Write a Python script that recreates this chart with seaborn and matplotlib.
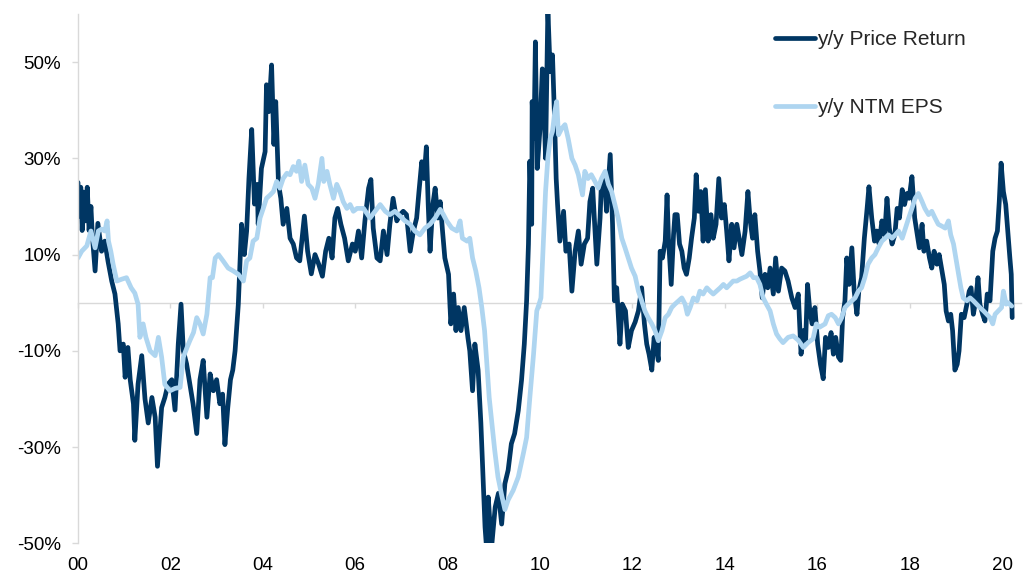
import matplotlib
matplotlib.use("Agg")
import matplotlib.pyplot as plt
import pandas as pd
import seaborn as sns

# ---------------- data ----------------
price_years = [
    2000.00, 2000.03, 2000.06, 2000.09, 2000.12, 2000.16, 2000.20, 2000.24, 2000.28, 2000.31,
    2000.37, 2000.43, 2000.51, 2000.58, 2000.65, 2000.73, 2000.80, 2000.84, 2000.87, 2000.91,
    2000.98, 2001.02, 2001.08, 2001.13, 2001.20, 2001.23, 2001.30, 2001.38, 2001.45, 2001.52,
    2001.60, 2001.67, 2001.72, 2001.81, 2001.88, 2001.95, 2002.03, 2002.10, 2002.17, 2002.23,
    2002.28, 2002.35, 2002.42, 2002.49, 2002.57, 2002.64, 2002.71, 2002.79, 2002.86, 2002.93,
    2003.00, 2003.07, 2003.13, 2003.18, 2003.24, 2003.30, 2003.35, 2003.40, 2003.47, 2003.54,
    2003.60, 2003.65, 2003.70, 2003.76, 2003.82, 2003.88, 2003.90, 2003.97, 2004.05, 2004.08,
    2004.13, 2004.19, 2004.24, 2004.28, 2004.34, 2004.39, 2004.44, 2004.52, 2004.59, 2004.66,
    2004.73, 2004.80, 2004.90, 2004.97, 2005.05, 2005.13, 2005.21, 2005.29, 2005.36, 2005.43,
    2005.50, 2005.56, 2005.62, 2005.69, 2005.77, 2005.85, 2005.94, 2006.00, 2006.07, 2006.14,
    2006.21, 2006.29, 2006.34, 2006.39, 2006.47, 2006.54, 2006.61, 2006.69, 2006.75, 2006.82,
    2006.90, 2006.97, 2007.04, 2007.11, 2007.19, 2007.26, 2007.33, 2007.38, 2007.44, 2007.49,
    2007.54, 2007.58, 2007.62, 2007.68, 2007.73, 2007.79, 2007.84, 2007.89, 2007.94, 2008.02,
    2008.07, 2008.13, 2008.18, 2008.23, 2008.29, 2008.36, 2008.44, 2008.48, 2008.54, 2008.59,
    2008.66, 2008.72, 2008.77, 2008.81, 2008.85, 2008.88, 2008.95, 2009.03, 2009.10, 2009.17,
    2009.24, 2009.31, 2009.38, 2009.45, 2009.53, 2009.60, 2009.66, 2009.71, 2009.75, 2009.78,
    2009.82, 2009.83, 2009.87, 2009.90, 2009.94, 2010.00, 2010.05, 2010.09, 2010.12, 2010.17,
    2010.22, 2010.27, 2010.31, 2010.35, 2010.38, 2010.43, 2010.51, 2010.56, 2010.63, 2010.69,
    2010.76, 2010.83, 2010.89, 2010.96, 2011.03, 2011.08, 2011.14, 2011.19, 2011.23, 2011.30,
    2011.33, 2011.39, 2011.44, 2011.52, 2011.57, 2011.61, 2011.66, 2011.73, 2011.78, 2011.85,
    2011.91, 2011.98, 2012.06, 2012.13, 2012.20, 2012.26, 2012.31, 2012.36, 2012.42, 2012.47,
    2012.53, 2012.56, 2012.60, 2012.65, 2012.71, 2012.75, 2012.78, 2012.84, 2012.89, 2012.92,
    2012.97, 2013.02, 2013.07, 2013.12, 2013.17, 2013.23, 2013.28, 2013.34, 2013.38, 2013.43,
    2013.48, 2013.53, 2013.58, 2013.64, 2013.70, 2013.75, 2013.81, 2013.87, 2013.93, 2013.99,
    2014.04, 2014.09, 2014.15, 2014.20, 2014.26, 2014.31, 2014.37, 2014.44, 2014.50, 2014.55,
    2014.60, 2014.65, 2014.71, 2014.76, 2014.81, 2014.87, 2014.93, 2014.98, 2015.05, 2015.10,
    2015.16, 2015.23, 2015.30, 2015.37, 2015.45, 2015.52, 2015.59, 2015.65, 2015.70, 2015.75,
    2015.79, 2015.84, 2015.89, 2015.95, 2016.01, 2016.07, 2016.13, 2016.18, 2016.24, 2016.30,
    2016.35, 2016.40, 2016.46, 2016.51, 2016.55, 2016.60, 2016.64, 2016.69, 2016.75, 2016.80,
    2016.86, 2016.90, 2016.96, 2017.02, 2017.08, 2017.12, 2017.18, 2017.24, 2017.29, 2017.34,
    2017.40, 2017.46, 2017.51, 2017.56, 2017.62, 2017.68, 2017.73, 2017.78, 2017.84, 2017.89,
    2017.94, 2017.99, 2018.05, 2018.11, 2018.16, 2018.21, 2018.27, 2018.31, 2018.37, 2018.43,
    2018.48, 2018.53, 2018.59, 2018.64, 2018.70, 2018.75, 2018.79, 2018.84, 2018.89, 2018.93,
    2018.98, 2019.03, 2019.07, 2019.12, 2019.18, 2019.24, 2019.29, 2019.33, 2019.38, 2019.43,
    2019.48, 2019.52, 2019.58, 2019.63, 2019.68, 2019.74, 2019.80, 2019.85, 2019.90, 2019.94,
    2019.98, 2020.03, 2020.08, 2020.13, 2020.17, 2020.20, 2020.22,
]
price_values = [
    25.0, 18.0, 24.0, 15.0, 23.0, 17.0, 24.0, 15.0, 20.0, 14.0,
    6.6, 16.5, 10.7, 12.8, 8.6, 4.5, 1.8, -1.7, -4.4, -10.0,
    -8.6, -15.5, -9.3, -16.0, -21.0, -28.6, -16.9, -11.0, -20.0, -25.0,
    -19.7, -23.8, -34.0, -21.8, -19.7, -16.9, -16.0, -22.3, -8.6, -0.3,
    -10.0, -12.7, -16.9, -21.0, -27.2, -16.0, -12.0, -23.8, -14.8, -18.3,
    -16.0, -21.0, -19.0, -29.5, -22.0, -16.0, -14.0, -10.0, -0.3, 16.3,
    10.0, 14.9, 25.8, 36.0, 20.5, 24.6, 16.3, 27.9, 31.4, 45.3,
    39.7, 49.4, 32.9, 41.8, 24.6, 21.7, 16.3, 19.6, 13.4, 12.2,
    9.3, 8.7, 18.0, 10.7, 6.0, 10.0, 8.0, 5.5, 10.7, 13.4,
    9.3, 17.6, 19.6, 16.3, 13.4, 8.7, 12.2, 10.7, 14.9, 9.3,
    17.0, 23.8, 25.6, 15.5, 9.3, 8.7, 14.9, 10.0, 16.3, 21.7,
    17.0, 18.3, 19.0, 18.3, 10.7, 14.9, 17.6, 23.1, 29.3, 25.8,
    32.4, 20.4, 10.7, 20.4, 23.8, 17.6, 21.0, 14.9, 9.3, 5.9,
    -4.4, 1.8, -5.8, -1.0, -5.8, -1.0, -7.3, -10.0, -18.3, -8.6,
    -14.0, -25.0, -36.9, -46.6, -52.0, -40.4, -51.0, -42.5, -39.6, -46.0,
    -37.6, -34.8, -29.3, -27.2, -22.4, -16.1, -8.6, 0.4, 12.2, 29.4,
    16.3, 41.8, 34.1, 54.2, 27.9, 36.2, 48.6, 39.7, 30.0, 61.0,
    48.0, 51.5, 39.7, 25.8, 20.4, 12.8, 19.0, 10.7, 12.2, 2.4,
    10.7, 14.9, 8.0, 12.2, 13.4, 21.0, 23.8, 14.9, 8.0, 17.6,
    25.2, 26.6, 19.0, 30.8, 16.3, 0.4, 3.1, -8.6, -0.3, -1.7,
    -9.3, -5.8, -4.0, -1.7, 3.1, -4.4, -8.6, -10.7, -14.0, -7.2,
    -10.0, -12.0, 10.7, 9.3, 12.8, 22.4, 13.4, 3.8, 14.1, 18.3,
    18.3, 12.2, 10.7, 7.2, 5.9, 9.3, 13.4, 17.6, 26.6, 19.0,
    23.1, 12.8, 23.5, 12.8, 18.3, 13.4, 16.3, 25.8, 17.6, 20.4,
    14.9, 8.7, 16.3, 11.4, 16.3, 13.4, 10.0, 14.9, 23.1, 17.0,
    13.4, 18.3, 10.7, 6.6, 1.0, 5.9, 3.1, 7.2, 1.8, 9.3,
    2.4, 7.2, 6.6, 4.5, 1.0, -1.0, 1.8, -10.7, -5.8, -7.8,
    3.8, -1.7, -4.4, -1.0, -8.6, -12.8, -15.8, -7.2, -9.3, -6.2,
    -10.7, -7.2, -11.3, -12.0, -3.1, 0.4, 9.3, 3.8, 11.4, 2.4,
    -2.4, 2.4, 5.2, 13.4, 19.6, 24.1, 17.6, 12.8, 14.9, 12.2,
    17.0, 14.1, 21.7, 15.5, 12.2, 14.1, 19.6, 17.6, 23.5, 20.4,
    22.7, 21.7, 26.2, 17.6, 14.5, 11.4, 16.3, 10.7, 12.8, 9.3,
    7.2, 10.7, 8.0, 10.0, 6.6, 3.8, -1.7, -3.8, -2.4, -5.8,
    -14.0, -12.8, -10.0, -2.4, -3.1, -0.3, 2.4, 3.1, -2.4, 0.4,
    5.2, -0.3, -2.4, -3.8, 1.8, 0.4, 10.7, 13.4, 14.9, 21.0,
    29.0, 23.1, 20.4, 14.1, 9.3, 5.9, -3.1,
]

eps_years = [
    2000.00, 2000.08, 2000.19, 2000.28, 2000.37, 2000.44, 2000.51, 2000.58, 2000.63, 2000.66,
    2000.71, 2000.76, 2000.84, 2000.95, 2001.05, 2001.15, 2001.23, 2001.30, 2001.34, 2001.41,
    2001.47, 2001.56, 2001.67, 2001.74, 2001.81, 2001.88, 2001.99, 2002.10, 2002.21, 2002.28,
    2002.36, 2002.42, 2002.50, 2002.57, 2002.64, 2002.71, 2002.79, 2002.86, 2002.91, 2002.97,
    2003.04, 2003.14, 2003.25, 2003.36, 2003.47, 2003.58, 2003.65, 2003.72, 2003.79, 2003.87,
    2003.94, 2004.01, 2004.08, 2004.16, 2004.23, 2004.30, 2004.37, 2004.44, 2004.52, 2004.59,
    2004.66, 2004.73, 2004.78, 2004.84, 2004.91, 2004.98, 2005.06, 2005.13, 2005.20, 2005.28,
    2005.32, 2005.39, 2005.45, 2005.53, 2005.60, 2005.67, 2005.74, 2005.82, 2005.89, 2005.96,
    2006.04, 2006.18, 2006.32, 2006.43, 2006.54, 2006.65, 2006.75, 2006.86, 2006.97, 2007.08,
    2007.19, 2007.29, 2007.40, 2007.51, 2007.62, 2007.73, 2007.84, 2007.91, 2007.98, 2008.09,
    2008.20, 2008.27, 2008.32, 2008.42, 2008.48, 2008.54, 2008.61, 2008.68, 2008.74, 2008.80,
    2008.85, 2008.90, 2008.96, 2009.02, 2009.09, 2009.17, 2009.24, 2009.31, 2009.42, 2009.53,
    2009.64, 2009.71, 2009.78, 2009.86, 2009.93, 2009.98, 2010.02, 2010.07, 2010.12, 2010.17,
    2010.22, 2010.27, 2010.32, 2010.36, 2010.40, 2010.47, 2010.54, 2010.61, 2010.69, 2010.76,
    2010.83, 2010.92, 2010.97, 2011.04, 2011.11, 2011.19, 2011.26, 2011.33, 2011.41, 2011.48,
    2011.55, 2011.62, 2011.69, 2011.77, 2011.84, 2011.91, 2011.98, 2012.06, 2012.13, 2012.20,
    2012.27, 2012.34, 2012.42, 2012.49, 2012.56, 2012.64, 2012.71, 2012.78, 2012.85, 2012.92,
    2013.00, 2013.07, 2013.14, 2013.19, 2013.25, 2013.32, 2013.40, 2013.46, 2013.53, 2013.61,
    2013.68, 2013.75, 2013.82, 2013.90, 2013.97, 2014.04, 2014.11, 2014.18, 2014.26, 2014.33,
    2014.40, 2014.47, 2014.55, 2014.62, 2014.69, 2014.76, 2014.83, 2014.90, 2014.98, 2015.05,
    2015.12, 2015.19, 2015.26, 2015.37, 2015.48, 2015.59, 2015.70, 2015.80, 2015.91, 2015.98,
    2016.05, 2016.17, 2016.24, 2016.31, 2016.39, 2016.46, 2016.53, 2016.60, 2016.67, 2016.75,
    2016.82, 2016.89, 2016.96, 2017.03, 2017.10, 2017.18, 2017.25, 2017.32, 2017.40, 2017.47,
    2017.54, 2017.62, 2017.69, 2017.76, 2017.84, 2017.91, 2017.98, 2018.05, 2018.12, 2018.19,
    2018.27, 2018.33, 2018.41, 2018.48, 2018.55, 2018.62, 2018.70, 2018.77, 2018.84, 2018.89,
    2018.95, 2019.00, 2019.06, 2019.11, 2019.16, 2019.24, 2019.31, 2019.38, 2019.45, 2019.52,
    2019.60, 2019.67, 2019.74, 2019.80, 2019.85, 2019.92, 2019.99, 2020.03, 2020.09, 2020.13,
    2020.21,
]
eps_values = [
    9.3, 10.7, 11.8, 14.9, 11.4, 14.9, 15.3, 14.9, 17.0, 12.8,
    10.7, 8.0, 4.5, 4.9, 5.2, 3.1, 2.0, -0.3, -7.2, -4.4,
    -7.2, -10.0, -11.0, -7.2, -11.3, -17.0, -18.3, -17.8, -17.6, -11.3,
    -9.3, -7.9, -6.2, -3.1, -4.4, -6.5, -2.4, 5.2, 5.2, 9.3,
    10.0, 8.7, 7.2, 6.6, 5.9, 4.5, 8.7, 9.3, 12.8, 13.4,
    17.6, 19.6, 21.7, 22.4, 23.1, 25.2, 23.8, 25.8, 26.9, 26.6,
    28.3, 27.3, 29.4, 25.2, 28.6, 24.6, 23.8, 21.7, 24.6, 30.0,
    25.2, 27.3, 24.6, 21.7, 24.6, 23.1, 21.0, 19.6, 20.4, 19.0,
    19.6, 19.6, 17.6, 19.0, 20.4, 19.0, 18.3, 19.0, 18.0, 17.0,
    16.3, 14.9, 14.1, 15.5, 16.3, 17.6, 19.4, 18.3, 17.0, 15.5,
    14.9, 17.0, 13.4, 12.8, 13.4, 9.3, 6.6, 3.1, -1.0, -5.8,
    -12.8, -19.7, -25.2, -30.7, -36.2, -40.0, -43.0, -41.0, -39.0, -36.2,
    -31.3, -28.0, -19.7, -10.7, -1.7, -0.3, 1.0, 12.2, 23.1, 30.0,
    34.1, 35.6, 39.7, 41.8, 34.9, 36.2, 37.0, 34.1, 30.0, 28.6,
    26.6, 22.4, 27.3, 25.8, 26.6, 25.2, 23.8, 25.8, 27.3, 24.6,
    23.1, 20.4, 17.6, 13.4, 11.4, 9.3, 7.2, 5.5, 2.4, 0.4,
    -1.7, -3.1, -4.4, -5.8, -7.9, -5.8, -3.1, -2.4, -1.0, -0.3,
    0.4, 1.0, -0.3, -2.4, -1.0, 1.0, 0.4, 2.4, 1.8, 3.1,
    2.4, 1.8, 2.4, 3.1, 3.8, 3.1, 3.8, 4.5, 4.5, 4.9,
    5.2, 5.5, 6.2, 5.2, 5.2, 3.8, 1.0, -0.3, -1.7, -4.4,
    -6.5, -7.5, -8.3, -7.2, -6.9, -7.8, -9.3, -8.3, -7.5, -4.4,
    -5.1, -4.4, -2.7, -2.4, -3.1, -4.4, -3.1, -1.0, -0.3, 0.4,
    1.0, 2.4, 3.1, 5.2, 8.0, 9.3, 10.0, 11.4, 12.8, 13.4,
    14.1, 13.4, 14.1, 14.9, 13.4, 15.5, 17.6, 19.6, 21.7, 22.7,
    21.0, 19.6, 18.3, 19.0, 17.6, 16.3, 15.9, 15.5, 17.0, 14.1,
    12.2, 9.3, 5.9, 3.1, 1.0, 0.4, 1.0, 0.4, -0.3, -1.0,
    -1.7, -2.4, -3.1, -4.4, -2.4, -1.7, -1.0, 2.4, -0.3, 0.0,
    -0.7,
]

series_names = ["y/y Price Return", "y/y NTM EPS"]
series_colors = ["#003663", "#aed5f0"]
tick_years = [2000, 2002, 2004, 2006, 2008, 2010, 2012, 2014, 2016, 2018, 2020]
tick_labels = ["00", "02", "04", "06", "08", "10", "12", "14", "16", "18", "20"]
y_ticks = [-50, -30, -10, 10, 30, 50]
y_tick_labels = [f"{v:d}%" for v in y_ticks]

# ---------------- build frame ----------------
df = pd.concat([
    pd.DataFrame({"year": price_years, "value": price_values, "series": series_names[0]}),
    pd.DataFrame({"year": eps_years, "value": eps_values, "series": series_names[1]}),
], ignore_index=True)

sns.set_theme(style="white")
plt.rcParams["font.family"] = ["Liberation Sans", "DejaVu Sans"]

fig = plt.figure(figsize=(10.36, 5.75), dpi=100)
ax = fig.add_axes([78 / 1036, 1 - 543.3 / 575, (1020.5 - 78) / 1036, (543.3 - 14) / 575])

sns.lineplot(data=df, x="year", y="value", hue="series", hue_order=series_names,
             palette=dict(zip(series_names, series_colors)), estimator=None,
             sort=False, linewidth=3.4, ax=ax, legend=False)

ax.set_xlim(2000, 2020.4)
ax.set_ylim(-50, 60)
ax.set_xlabel("")
ax.set_ylabel("")
ax.set_xticks(tick_years, tick_labels)
ax.set_yticks(y_ticks, y_tick_labels)

gray = "#d9d9d9"
for side in ["top", "right", "bottom"]:
    ax.spines[side].set_visible(False)
ax.spines["left"].set_color(gray)
ax.spines["left"].set_linewidth(1.0)
ax.tick_params(axis="y", length=4.3, width=1, color=gray, labelsize=13.5, pad=8,
               labelcolor="black", left=True)
ax.tick_params(axis="x", length=0, pad=10, labelsize=13.5, labelcolor="black")

# zero line with small tick marks
sec = ax.secondary_xaxis(50 / 110)
sec.set_xticks(tick_years)
sec.tick_params(axis="x", length=3.6, width=1, color=gray, direction="out",
                labelbottom=False, labeltop=False)
for sp in sec.spines.values():
    sp.set_color(gray)
    sp.set_linewidth(1.0)

# legend
lines = ax.get_lines()[:2]
fig.legend(lines, series_names, loc="upper left", bbox_to_anchor=(775 / 1036, 0.948),
           frameon=False, fontsize=15, handlelength=1.9, handletextpad=0.1,
           labelspacing=2.35, borderpad=0, borderaxespad=0)

fig.savefig("out.png", dpi=100)
